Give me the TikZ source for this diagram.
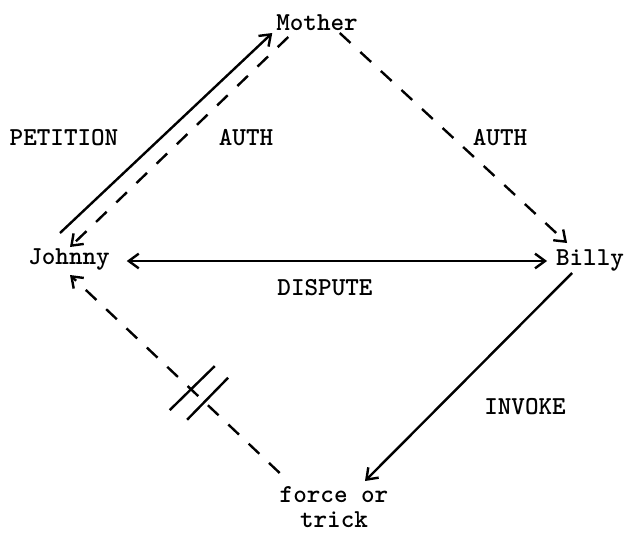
\documentclass[tikz,border=0pt]{standalone}
\usepackage{fontspec}
\usetikzlibrary{arrows.meta}

\begin{document}
\begin{tikzpicture}[x=0.75pt, y=-0.75pt, >={Straight Barb[length=7.5pt,width=11pt]},
	every node/.style={font=\fontsize{19.4}{18.5}\ttfamily\bfseries, inner sep=0pt, outer sep=0pt},
	link/.style={line width=1.8pt},
	authlink/.style={line width=1.8pt, dash pattern=on 11pt off 10pt}]
	\useasboundingbox (0,0) rectangle (628,533);
	\node[anchor=base] (mother) at (317,30) {Mother};
	\node[anchor=base] (johnny) at (69,264) {Johnny};
	\node[anchor=base] (billy) at (590,265) {Billy};
	\node[anchor=north, align=center] (force) at (334,487) {force or\\trick};
	\node[anchor=base] (petition) at (64,145) {PETITION};
	\node[anchor=base] (authl) at (246,145) {AUTH};
	\node[anchor=base] (authr) at (500,145) {AUTH};
	\node[anchor=base] (dispute) at (325,295) {DISPUTE};
	\node[anchor=base] (invoke) at (525,414) {INVOKE};
	\draw[link, ->] ([shift={(-9,-31)}]johnny.base) -- ([shift={(-4,3)}]mother.base west);
	\draw[authlink, ->] ([shift={(12,7)}]mother.base west) -- ([shift={(1,-17)}]johnny.base);
	\draw[authlink, ->] ([shift={(-18,3)}]mother.base east) -- ([shift={(11,-22)}]billy.base west);
	\draw[link, <->] ([shift={(17,-3)}]johnny.base east) -- ([shift={(-9,-4)}]billy.base west);
	\draw[link, ->] ([shift={(16,8)}]billy.base west) -- ([shift={(31,-6)}]force.north);
	\draw[authlink, ->] ([shift={(0,-14)}]force.north west) -- ([shift={(1,11)}]johnny.base)
		coordinate[pos=0.37] (brkA) coordinate[pos=0.424] (brkB);
	\draw[link] (brkA) ++(-15,20) -- ++(41,-42);
	\draw[link] (brkB) ++(-21,21) -- ++(45,-44);
\end{tikzpicture}
\end{document}
